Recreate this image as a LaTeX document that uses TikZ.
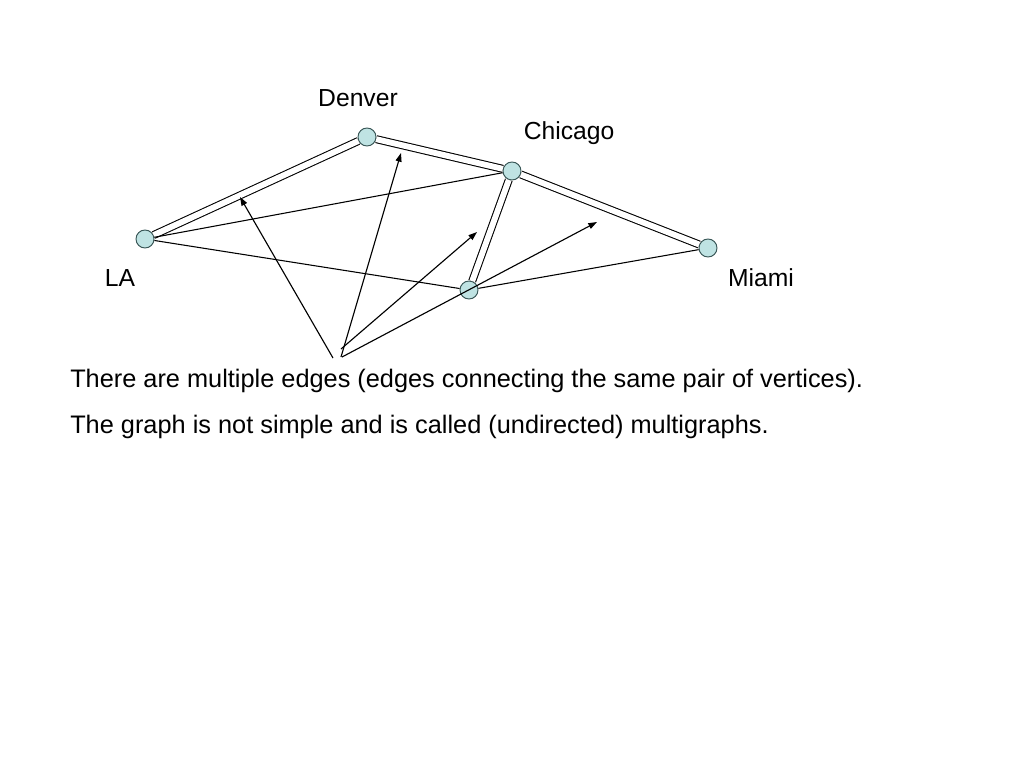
\documentclass[tikz,border=0pt]{standalone}
\usepackage{fontspec}
\setmainfont{Liberation Sans}
\usetikzlibrary{arrows.meta}
\definecolor{vfill}{RGB}{191,227,227}
\definecolor{vline}{RGB}{55,85,85}
\tikzset{
  vertex/.style={circle, draw=vline, fill=vfill, line width=0.7pt, minimum size=13.5pt, inner sep=0pt},
  multi/.style={double, double distance=4.4pt, line width=0.8pt},
  simple/.style={line width=0.8pt},
  pointer/.style={-{Triangle[length=6.5pt,width=4.5pt]}, line width=0.85pt}
}
\begin{document}
\begin{tikzpicture}[x=0.75pt,y=-0.75pt,font=\fontsize{18.5}{22}\selectfont]
\useasboundingbox (0,0) rectangle (1024,768);

\node[vertex] (den) at (367,137) {};
\node[vertex] (chi) at (512,171) {};
\node[vertex] (la) at (145,239) {};
\node[vertex] (mia) at (708,248) {};
\node[vertex] (mid) at (469,290) {};

\node (denl) at (358,98) {Denver};
\node (chil) at (569,133) {Chicago};
\node (lal) at (120,278) {LA};
\node (mial) at (761,278) {Miami};

\draw[multi] (la) -- (den);
\draw[multi] (den) -- (chi);
\draw[multi] (chi) -- (mia);
\draw[multi] (chi) -- (mid);
\draw[simple] (la) -- (chi);
\draw[simple] (la) -- (mid);
\draw[simple] (mid) -- (mia);

\coordinate (t1) at (333,358);
\coordinate (t2) at (341,357);
\coordinate (t3) at (341,349);
\coordinate (t4) at (342,357);
\coordinate (h1) at (240,197);
\coordinate (h2) at (401,153);
\coordinate (h3) at (477,232);
\coordinate (h4) at (597,222);
\draw[pointer] (t1) -- (h1);
\draw[pointer] (t2) -- (h2);
\draw[pointer] (t3) -- (h3);
\draw[pointer] (t4) -- (h4);

\node[anchor=west, inner sep=0pt, font=\fontsize{19}{22}\selectfont] (line1) at (70,381) {There are multiple edges (edges connecting the same pair of vertices).};
\node[anchor=west, inner sep=0pt, font=\fontsize{19}{22}\selectfont] (line2) at (70,427) {The graph is not simple and is called (undirected) multigraphs.};
\end{tikzpicture}
\end{document}
